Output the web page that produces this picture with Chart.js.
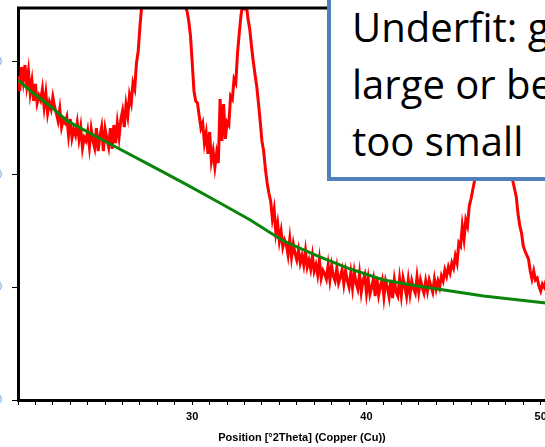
<!DOCTYPE html>
<html>
<head>
<meta charset="utf-8">
<script src="https://cdn.jsdelivr.net/npm/chart.js@4.4.1/dist/chart.umd.min.js"></script>
<style>
  html, body { margin: 0; padding: 0; background: #fff; overflow: hidden; }
  body { width: 545px; height: 447px; position: relative; }
  #wrap { position: absolute; left: -40px; top: 0; width: 640px; height: 447px; }
  #note {
    position: absolute; left: 327px; top: -30px; width: 400px; height: 211px;
    box-sizing: border-box; border: 4px solid #4f81bd; background: #fff;
    font-family: "Open Sans", sans-serif; font-size: 40px; line-height: 57px;
    color: #000; white-space: nowrap; padding: 24px 0 0 21px;
  }
</style>
</head>
<body>
<div id="wrap"><canvas id="xrd"></canvas></div>
<div id="note">Underfit: granularity too<br>large or bending factor<br>too small</div>
<script>
// ----- SCAN DATA -----
const scanStart = 20.0;   // °2Theta
const scanStep = 0.1;
const counts = [
  2875, 2741, 2954, 2830, 2972, 2795, 2919, 2724, 2830, 2653,
  2804, 2635, 2700, 2660, 2759, 2599, 2724, 2546, 2640, 2582,
  2688, 2600, 2544, 2475, 2582, 2422, 2490, 2460, 2511, 2351,
  2493, 2324, 2400, 2350, 2458, 2316, 2420, 2236, 2330, 2300,
  2387, 2245, 2404, 2300, 2236, 2413, 2209, 2340, 2422, 2209,
  2404, 2320, 2245, 2413, 2227, 2440, 2280, 2458, 2333, 2484,
  2564, 2422, 2617, 2520, 2706, 2635, 2812, 2759, 2990, 3096,
  3318, 3496, 3800, 4300, 4900, 5600, 6400, 7200, 8000, 8600,
  9000, 9300, 9400, 9200, 8800, 8200, 7600, 6900, 6200, 5500,
  4900, 4400, 4000, 3700, 3620, 3540, 3490, 3451, 3363, 3230,
  2990, 2742, 2653, 2635, 2520, 2413, 2458, 2280, 2369, 2183,
  2378, 2121, 2209, 2067, 2192, 2103, 2670, 2298, 2626, 2316,
  2466, 2440, 2697, 2670, 2848, 2812, 3079, 3256, 3416, 3510,
  3480, 3520, 3380, 3292, 3141, 3008, 2893, 2786, 2635, 2475,
  2298, 2209, 2049, 1925, 1836, 1766, 1606, 1694, 1482, 1570,
  1411, 1500, 1357, 1420, 1380, 1286, 1428, 1269, 1384, 1300,
  1242, 1331, 1216, 1280, 1198, 1322, 1180, 1240, 1162, 1278,
  1145, 1200, 1109, 1242, 1082, 1150, 1120, 1074, 1198, 1065,
  1189, 1100, 1056, 1171, 1038, 1090, 1154, 1029, 1145, 1060,
  1002, 1127, 994, 1136, 1040, 985, 1118, 958, 1060, 1109,
  949, 1074, 940, 1000, 1074, 922, 1082, 932, 1010, 1065,
  914, 1056, 1000, 914, 1065, 905, 1065, 960, 922, 1074,
  932, 1082, 1010, 922, 1065, 940, 1056, 990, 949, 1091,
  958, 1065, 1000, 949, 1056, 967, 1065, 1010, 958, 1074,
  985, 1056, 1000, 1100, 1056, 1153, 1100, 1180, 1127, 1216,
  1171, 1278, 1216, 1393, 1366, 1544, 1428, 1597, 1544, 1721,
  1783, 1863, 1943, 2050, 2180, 2330, 2500, 2700, 2950, 3250,
  3600, 3950, 4250, 4450, 4500, 4400, 4150, 3800, 3400, 3000,
  2650, 2350, 2150, 2010, 1943, 1872, 1801, 1650, 1544, 1482,
  1366, 1322, 1286, 1251, 1145, 1074, 1145, 1065, 1082, 1011,
  967, 1029, 1002, 1056, 1000, 990
];

// background fit (bending factor / granularity result)
const bgAngle = [20.0, 20.86, 21.84, 22.82, 25.29, 27.99, 29.6, 31.49, 33.33, 35.23, 37.18, 39.08, 40.98, 42.93, 44.83, 46.72, 50.29, 52.6];
const bgCounts = [2839, 2724, 2609, 2476, 2271, 2050, 1917, 1757, 1597, 1411, 1278, 1162, 1065, 1012, 967, 923, 861, 820];

const yTicks = [0, 1000, 2000, 3000];
const xLabelEvery = 10;

const scanPoints = counts.map((c, i) => ({ x: +(scanStart + i * scanStep).toFixed(2), y: c }));
const bgPoints = bgAngle.map((a, i) => ({ x: a, y: bgCounts[i] }));

// frame line along the top of the plot area
const topFrame = {
  id: 'topFrame',
  afterDraw(chart) {
    const { ctx, chartArea } = chart;
    ctx.save();
    ctx.strokeStyle = '#000';
    ctx.lineWidth = 3;
    ctx.beginPath();
    ctx.moveTo(chartArea.left - 1, chartArea.top);
    ctx.lineTo(chartArea.right, chartArea.top);
    ctx.stroke();
    ctx.restore();
  }
};

const canvas = document.getElementById('xrd');
canvas.width = 640;
canvas.height = 447;

new Chart(canvas.getContext('2d'), {
  type: 'line',
  data: {
    datasets: [
      { label: 'Background', data: bgPoints, borderColor: '#0a840a', borderWidth: 3, pointRadius: 0, tension: 0, order: 0 },
      { label: 'Scan', data: scanPoints, borderColor: '#ff0000', borderWidth: 3, pointRadius: 0, tension: 0, order: 1 }
    ]
  },
  options: {
    responsive: false,
    animation: false,
    layout: { padding: { top: 8, right: 14, left: 0, bottom: 0 } },
    plugins: { legend: { display: false }, tooltip: { enabled: false } },
    scales: {
      x: {
        type: 'linear',
        min: 20,
        max: 52.6,
        afterFit: (s) => { s.height = 47; s.paddingLeft = 0; s.paddingRight = 0; },
        afterBuildTicks: (s) => {
          const t = [];
          for (let v = 20; v <= 52; v++) t.push({ value: v });
          s.ticks = t;
        },
        border: { color: '#000', width: 3 },
        grid: { drawOnChartArea: false, color: '#000', tickLength: 5, lineWidth: 1 },
        ticks: {
          autoSkip: false,
          maxRotation: 0,
          padding: 5,
          color: '#000',
          font: { family: 'Liberation Sans', weight: 'bold', size: 11 },
          callback: (v) => (v % xLabelEvery === 0 && v > 20 ? String(v) : '')
        },
        title: {
          display: true,
          text: 'Position [°2Theta] (Copper (Cu))',
          color: '#000',
          font: { family: 'Liberation Sans', weight: 'bold', size: 11 },
          padding: { top: 0, bottom: 2 }
        }
      },
      y: {
        type: 'linear',
        min: 0,
        max: 3478,
        afterFit: (s) => { s.width = 58; s.paddingTop = 0; s.paddingBottom = 0; },
        afterBuildTicks: (s) => { s.ticks = yTicks.map(v => ({ value: v })); },
        border: { color: '#000', width: 3 },
        grid: { drawOnChartArea: false, color: '#000', tickLength: 6, lineWidth: 1 },
        ticks: {
          padding: 10,
          color: '#66a8ee',
          font: { family: 'Liberation Sans', size: 11 }
        }
      }
    }
  },
  plugins: [topFrame]
});
</script>
</body>
</html>
